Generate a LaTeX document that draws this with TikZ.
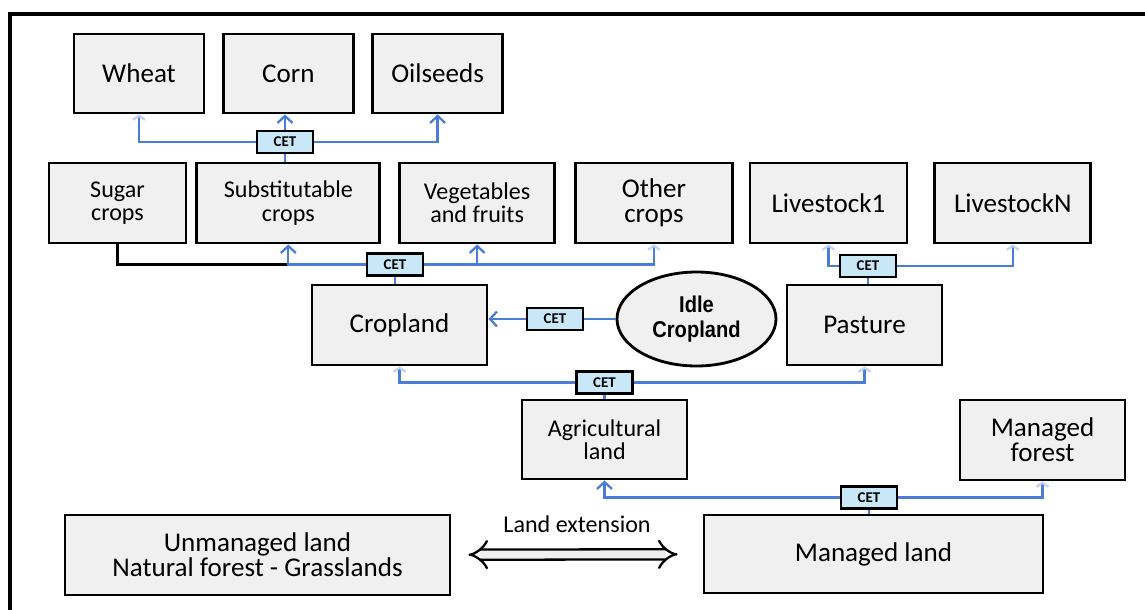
\documentclass[tikz,border=0pt]{standalone}
\usepackage{fontspec}
\setmainfont{Carlito}
\newfontfamily\idlefont[FakeStretch=0.88]{Liberation Sans}
\usepackage{tikz}
\usetikzlibrary{
  positioning,
  arrows.meta,
  shapes.geometric
}
\definecolor{luBlue}{HTML}{4A7DD8}
\definecolor{luBlueL}{HTML}{C8E8F8}
\definecolor{luGray}{HTML}{F0F0F0}

\begin{document}
\begin{tikzpicture}[
  every node/.style={align=center},
  landbox/.style={
    rectangle, draw=black, fill=luGray, line width=1.6pt,
    minimum height=1.6cm, inner sep=2pt
  },
  cet/.style={
    rectangle, draw=black, fill=luBlueL, line width=1.5pt,
    minimum width=1.12cm, minimum height=0.44cm, inner sep=1pt,
    font=\fontsize{8.5}{9}\selectfont\bfseries
  },
  idle/.style={
    ellipse, draw=black, fill=luGray, line width=1.6pt,
    minimum width=3.18cm, minimum height=1.88cm,
    font=\idlefont\fontsize{13}{14}\selectfont\bfseries
  },
  big/.style={font=\fontsize{15.4}{14.4}\selectfont},
  small/.style={font=\fontsize{13.7}{13.2}\selectfont},
  link/.style={draw=luBlue, line width=1.3pt},
  arrow/.style={-{Straight Barb[length=1.4mm, width=3mm]}, draw=luBlue, line width=1.3pt},
  faint/.style={-{Straight Barb[length=0.8mm, width=2.4mm, color=luBlue!35]}, draw=luBlue, line width=1.3pt}
]
 \useasboundingbox (0,0) rectangle (22.9,-12.18);
 \draw[line width=2pt] (0.2,-0.28) rectangle (23.4,-12.6);

 % Crops at the top
 \node[landbox, big, minimum width=2.6cm, minimum height=1.58cm] (wheat) at (2.78,-1.47) {Wheat};
 \node[landbox, big, minimum width=2.6cm, minimum height=1.58cm, right=0.33cm of wheat] (corn) {Corn};
 \node[landbox, big, minimum width=2.6cm, minimum height=1.58cm, right=0.33cm of corn] (oil) {Oilseeds};
 \node[cet] (cet1) at (5.70,-2.84) {CET};

 % Crop groups and livestock
 \node[landbox, small, minimum width=2.74cm] (sugar) at (2.35,-4.06) {Sugar\\crops};
 \node[landbox, small, minimum width=3.66cm, right=0.16cm of sugar] (subst) {Substitutable\\crops};
 \node[landbox, small, minimum width=3.1cm, right=0.34cm of subst] (veg) {Vegetables\\and fruits};
 \node[landbox, big, minimum width=3.14cm, right=0.36cm of veg] (other) {Other\\crops};
 \node[landbox, big, minimum width=3.14cm] (live1) at (16.57,-4.06) {Livestock1};
 \node[landbox, big, minimum width=3.12cm, right=0.5cm of live1] (liveN) {LivestockN};
 \node[cet] (cet2) at (7.90,-5.29) {CET};
 \node[cet] (cet3) at (17.36,-5.32) {CET};

 \draw[faint] (cet1.west) -| (wheat.south);
 \draw[arrow] (cet1.north) -- (cet1.north |- corn.south);
 \draw[arrow] (cet1.east) -| (oil.south);
 \draw[link] (cet1.south) -- (cet1.south |- subst.north);

 % Cropland, idle cropland, pasture
 \node[landbox, big, minimum width=3.5cm] (crop) at (7.99,-6.5) {Cropland};
 \node[idle] (idle) at (13.93,-6.38) {Idle\\Cropland};
 \node[landbox, big, minimum width=3.1cm] (past) at (17.29,-6.5) {Pasture};
 \node[cet] (cetidle) at (11.1,-6.38) {CET};

 \draw[line width=1.5pt] (sugar.south) |- (cet2.west -| subst.south);
 \draw[arrow] (cet2.west) -| (subst.south);
 \draw[arrow] (cet2.east) -| (veg.south);
 \draw[faint] (cet2.east) -| (other.south);
 \draw[link] (cet2.south) -- (cet2.south |- crop.north);

 \draw[faint] (cet3.west) -| (live1.south);
 \draw[faint] (cet3.east) -| (liveN.south);
 \draw[link] (cet3.south) -- (cet3.south |- past.north);

 \draw[link] (idle.west) -- (cetidle.east);
 \draw[arrow] (cetidle.west) -- (cetidle.west -| crop.east);

 % Agricultural land and forest
 \node[landbox, small, minimum width=3.3cm, minimum height=1.58cm] (agri) at (12.09,-8.79) {Agricultural\\land};
 \node[landbox, big, minimum width=3.3cm] (mforest) at (20.85,-8.8) {Managed\\forest};
 \node[cet] (cet4) at (12.09,-7.65) {CET};

 \draw[faint] (cet4.west) -| (crop.south);
 \draw[faint] (cet4.east) -| (past.south);
 \draw[link] (cet4.south) -- (agri.north);

 % Managed and unmanaged land
 \node[landbox, big, minimum width=7.7cm] (unman) at (5.15,-11.1) {Unmanaged land\\Natural forest - Grasslands};
 \node[landbox, big, minimum width=6.78cm, minimum height=1.56cm] (mland) at (17.47,-11.08) {Managed land};
 \node[cet] (cet5) at (17.38,-9.95) {CET};

 \draw[arrow] (cet5.west) -| (agri.south);
 \draw[faint] (cet5.east) -| (mforest.south);
 \draw[link] (cet5.south) -- (cet5.south |- mland.north);

 \draw[double=luGray, double distance=4.5pt, line width=1.3pt, {Implies}-{Implies},
       shorten <=0.34cm, shorten >=0.5cm] (unman) -- (mland)
   node[midway, above=0.3cm, small] (ext) {Land extension};
\end{tikzpicture}
\end{document}
